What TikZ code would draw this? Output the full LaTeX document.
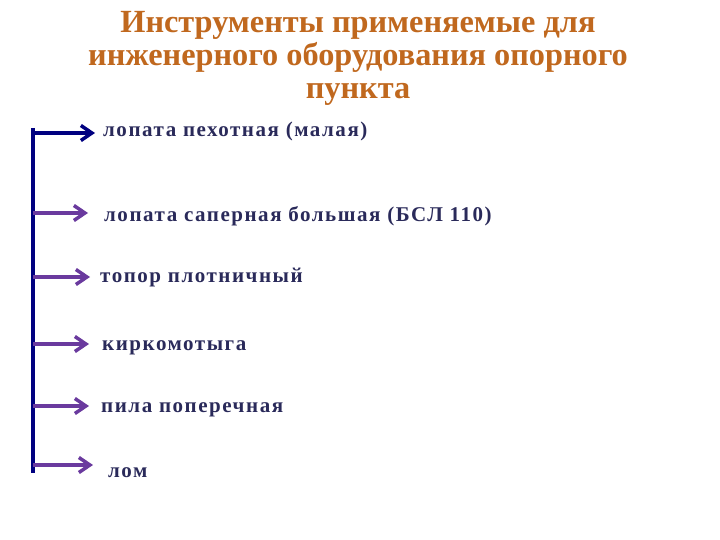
\documentclass[tikz,border=0pt]{standalone}
\usepackage{fontspec}
\setmainfont{Liberation Serif}
\newfontfamily\itemfont[LetterSpace=7.3]{Liberation Serif}
\usetikzlibrary{arrows.meta}
\definecolor{titlec}{HTML}{C0681E}
\definecolor{navy}{HTML}{000080}
\definecolor{purp}{HTML}{6A3A9E}
\definecolor{txtc}{HTML}{2A2A5A}
\begin{document}
\begin{tikzpicture}[x=1pt,y=-1pt,
  titletext/.style={font=\bfseries\fontsize{32.3}{33}\selectfont, text=titlec, align=center, anchor=base, inner sep=0pt},
  item/.style={font=\itemfont\bfseries\fontsize{21}{24}\selectfont, text=txtc, anchor=base west, inner sep=0pt},
  arr/.style={line width=4pt, -{Straight Barb[length=11pt,width=15pt,line width=3.5pt]}, color=purp}]
\useasboundingbox (0,0) rectangle (720,540);
\node[titletext] (title) at (358,99) {Инструменты применяемые для\\инженерного оборудования опорного\\пункта};
\coordinate (vtop) at (33,128);
\coordinate (vbot) at (33,473);
\coordinate (s1) at (33,133);
\coordinate (s2) at (33,213);
\coordinate (s3) at (33,277);
\coordinate (s4) at (33,344);
\coordinate (s5) at (33,406);
\coordinate (s6) at (33,465);
\node[item] (t1) at (103,137) {лопата пехотная (малая)};
\node[item] (t2) at (104,222) {лопата саперная большая (БСЛ 110)};
\node[item] (t3) at (100,282) {топор плотничный};
\node[item] (t4) at (102,350) {киркомотыга};
\node[item] (t5) at (101,412) {пила поперечная};
\node[item] (t6) at (108,477) {лом};
\draw[line width=4.5pt, navy] (vtop) -- (vbot);
\draw[arr, color=navy] (s1) -- ([xshift=-8pt]s1 -| t1.west);
\draw[arr] (s2) -- ([xshift=-16pt]s2 -| t2.west);
\draw[arr] (s3) -- ([xshift=-10pt]s3 -| t3.west);
\draw[arr] (s4) -- ([xshift=-13pt]s4 -| t4.west);
\draw[arr] (s5) -- ([xshift=-12pt]s5 -| t5.west);
\draw[arr] (s6) -- ([xshift=-15pt]s6 -| t6.west);
\end{tikzpicture}
\end{document}
